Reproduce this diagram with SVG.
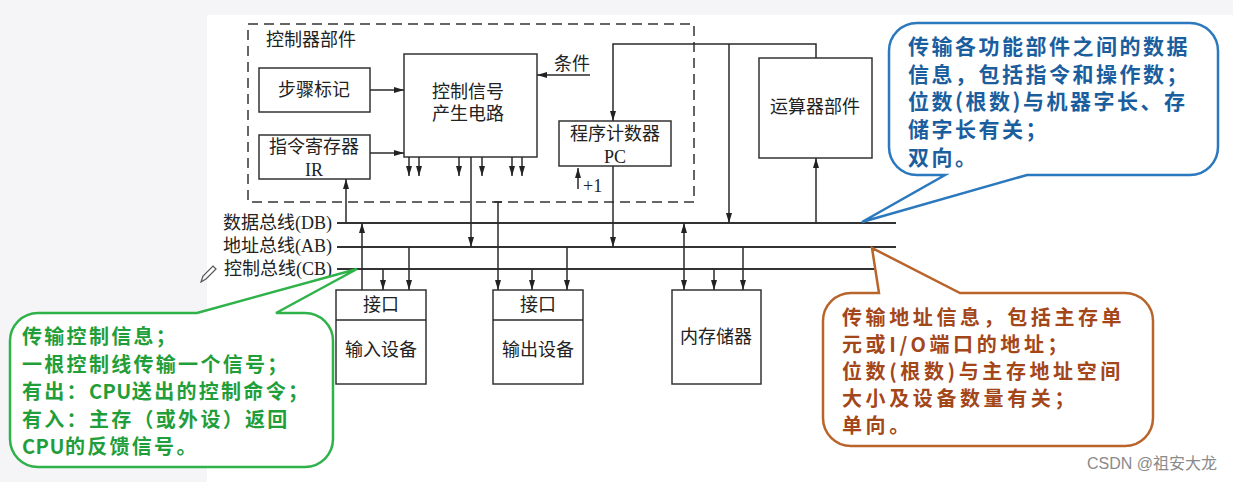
<svg xmlns="http://www.w3.org/2000/svg" width="1233" height="482" viewBox="0 0 1233 482">
<style>
.lbl{font-family:"Liberation Serif","Noto Sans CJK SC",serif;font-size:18px;fill:#222;dominant-baseline:central}
.box{fill:#fff;stroke:#333;stroke-width:1.5}
.ln{fill:none;stroke:#2a2a2a;stroke-width:1.5}
.bus{fill:none;stroke:#333;stroke-width:1.8}
.arr{fill:none;stroke:#2a2a2a;stroke-width:1.5;marker-end:url(#ah)}
.cal{font-family:"Noto Sans CJK SC","Noto Sans",sans-serif;font-weight:bold;font-size:21px;letter-spacing:2.5px;dominant-baseline:central}
.calo{font-size:20px;letter-spacing:3.6px}
.calg{font-size:20px;letter-spacing:2.3px}
.lat{letter-spacing:0.5px}
</style>
<defs>
<marker id="ah" markerUnits="userSpaceOnUse" markerWidth="11" markerHeight="7" refX="10" refY="3.5" orient="auto-start-reverse">
<path d="M0,0.5 L10,3.5 L0,6.5 Z" fill="#222"/>
</marker>
</defs>
<rect x="0" y="0" width="1233" height="482" fill="#f5f5f7"/>
<rect x="207" y="15" width="1026" height="467" fill="#fff"/>

<g id="controller">
<rect x="248" y="24" width="446" height="178" fill="none" stroke="#333" stroke-width="1.5" stroke-dasharray="10,6"/>
<text class="lbl" x="266" y="40">控制器部件</text>
</g>
<g id="step">
<rect class="box" x="259" y="68" width="111" height="44"/>
<text class="lbl" x="314" y="90" text-anchor="middle">步骤标记</text>
</g>
<g id="ir">
<rect class="box" x="259" y="135" width="111" height="44"/>
<text class="lbl" x="314" y="147" text-anchor="middle">指令寄存器</text>
<text class="lbl" x="314" y="170" text-anchor="middle">IR</text>
</g>
<g id="ctrlsig">
<rect class="box" x="404" y="54" width="133" height="103"/>
<text class="lbl" x="468" y="92" text-anchor="middle">控制信号</text>
<text class="lbl" x="468" y="114" text-anchor="middle">产生电路</text>
</g>
<g id="cond">
<text class="lbl" x="572" y="64" text-anchor="middle">条件</text>
</g>
<g id="pc">
<rect class="box" x="559" y="121" width="112" height="45"/>
<text class="lbl" x="615" y="134" text-anchor="middle">程序计数器</text>
<text class="lbl" x="615" y="157" text-anchor="middle">PC</text>
<text class="lbl" x="583" y="186">+1</text>
</g>
<g id="alu">
<rect class="box" x="759" y="58" width="113" height="100"/>
<text class="lbl" x="815" y="107" text-anchor="middle">运算器部件</text>
</g>
<g id="buslabels">
<text class="lbl" x="332" y="223" text-anchor="end">数据总线(DB)</text>
<text class="lbl" x="332" y="246" text-anchor="end">地址总线(AB)</text>
<text class="lbl" x="332" y="269" text-anchor="end">控制总线(CB)</text>
<path d="M201,282 L203,276 L213,266 L216,269 L206,279 Z" fill="none" stroke="#555" stroke-width="1.2"/>
</g>
<g id="input">
<rect class="box" x="336" y="290" width="90" height="94"/>
<line class="ln" x1="336" y1="320" x2="426" y2="320"/>
<text class="lbl" x="381" y="305" text-anchor="middle">接口</text>
<text class="lbl" x="381" y="350" text-anchor="middle">输入设备</text>
</g>
<g id="output">
<rect class="box" x="493" y="290" width="90" height="94"/>
<line class="ln" x1="493" y1="320" x2="583" y2="320"/>
<text class="lbl" x="538" y="305" text-anchor="middle">接口</text>
<text class="lbl" x="538" y="350" text-anchor="middle">输出设备</text>
</g>
<g id="memory">
<rect class="box" x="672" y="290" width="89" height="94"/>
<text class="lbl" x="716" y="337" text-anchor="middle">内存储器</text>
</g>

<g id="connectors">
<path class="bus" d="M337,223 H896"/>
<path class="bus" d="M337,247 H896"/>
<path class="bus" d="M337,269 H896"/>
<path class="arr" d="M370,90 H404"/>
<path class="arr" d="M370,153 H404"/>
<path class="arr" d="M590,75 H537"/>
<path class="arr" d="M409,157 V176"/>
<path class="arr" d="M419,157 V176"/>
<path class="arr" d="M459,157 V176"/>
<path class="arr" d="M482,157 V176"/>
<path class="arr" d="M512,157 V176"/>
<path class="arr" d="M522,157 V176"/>
<path class="arr" d="M471,157 V247"/>
<path class="arr" d="M816,58 V44 H613 V121"/>
<path class="arr" d="M729,44 V223"/>
<path class="arr" d="M816,223 V158"/>
<path class="arr" d="M578,189 V168"/>
<path class="arr" d="M613,166 V247"/>
<path class="arr" d="M346,223 V179"/>
<path class="arr" d="M362,290 V223"/>
<path class="arr" d="M383,269 V290"/>
<path class="arr" d="M409,247 V290"/>
<path class="ln" d="M494,202 H502"/>
<path class="arr" d="M498,202 V290"/>
<path class="arr" d="M532,269 V290"/>
<path class="arr" d="M567,247 V290"/>
<path class="arr" style="marker-start:url(#ah)" d="M684,223 V290"/>
<path class="arr" d="M714,269 V290"/>
<path class="arr" d="M743,247 V290"/>
</g>

<g id="callout-db">
<path d="M917,23 H1190 A28,28 0 0 1 1218,51 V147 A28,28 0 0 1 1190,175 H1027 L862,222 L945,175 H917 A28,28 0 0 1 889,147 V51 A28,28 0 0 1 917,23 Z" fill="#fff" stroke="#2a78be" stroke-width="2.5"/>
<text class="cal" fill="#1b5e9e" x="908" y="45">传输各功能部件之间的数据</text>
<text class="cal" fill="#1b5e9e" x="908" y="73">信息，包括指令和操作数；</text>
<text class="cal" fill="#1b5e9e" x="908" y="100">位数(根数)与机器字长、存</text>
<text class="cal" fill="#1b5e9e" x="908" y="128">储字长有关；</text>
<text class="cal" fill="#1b5e9e" x="908" y="156">双向。</text>
</g>
<g id="callout-ab">
<path d="M851,293 H879 L872,248 L960,293 H1125 A28,28 0 0 1 1153,321 V418 A28,28 0 0 1 1125,446 H851 A28,28 0 0 1 823,418 V321 A28,28 0 0 1 851,293 Z" fill="#fff" stroke="#b8642a" stroke-width="2.5"/>
<text class="cal calo" fill="#a3461a" x="842" y="316">传输地址信息，包括主存单</text>
<text class="cal calo" fill="#a3461a" x="842" y="343">元或I/O端口的地址；</text>
<text class="cal calo" fill="#a3461a" x="842" y="370">位数(根数)与主存地址空间</text>
<text class="cal calo" fill="#a3461a" x="842" y="397">大小及设备数量有关；</text>
<text class="cal calo" fill="#a3461a" x="842" y="424">单向。</text>
</g>
<g id="callout-cb">
<path d="M38,313 H197 L357,269 L276,313 H305 A28,28 0 0 1 333,341 V439 A28,28 0 0 1 305,467 H38 A28,28 0 0 1 10,439 V341 A28,28 0 0 1 38,313 Z" fill="#fff" stroke="#2fb24a" stroke-width="2.5"/>
<text class="cal calg" fill="#1f9e3a" x="22" y="335">传输控制信息；</text>
<text class="cal calg" fill="#1f9e3a" x="22" y="363">一根控制线传输一个信号；</text>
<text class="cal calg" fill="#1f9e3a" x="22" y="390">有出：<tspan class="lat">CPU</tspan>送出的控制命令；</text>
<text class="cal calg" fill="#1f9e3a" x="22" y="418">有入：主存（或外设）返回</text>
<text class="cal calg" fill="#1f9e3a" x="22" y="445"><tspan class="lat">CPU</tspan>的反馈信号。</text>
</g>
<text x="1217" y="463" text-anchor="end" font-family="Liberation Sans, Noto Sans CJK SC, sans-serif" font-size="16" fill="#8a8a8a" dominant-baseline="central">CSDN @祖安大龙</text>
</svg>
